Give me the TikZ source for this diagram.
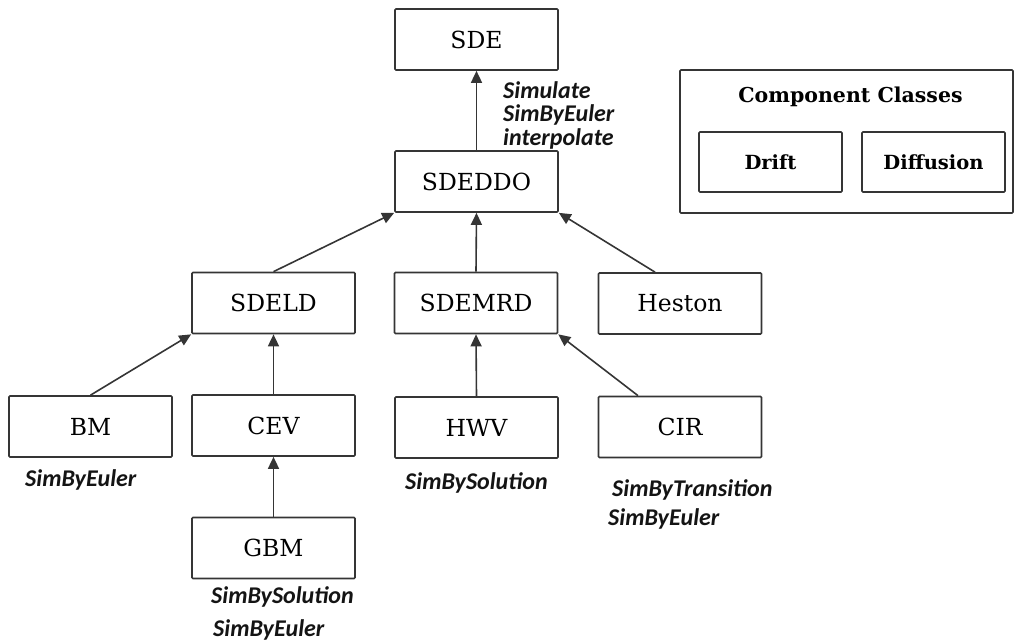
\documentclass[tikz,border=0pt]{standalone}
\usepackage{fontspec}
\setmainfont{DejaVu Serif}
\newfontfamily\labfont{Carlito}
\usetikzlibrary{arrows.meta,positioning}
\definecolor{edgec}{HTML}{353535}
\definecolor{labc}{HTML}{141414}
\tikzset{
  cls/.style={draw=edgec, line width=1.7pt, rounded corners=1pt, minimum width=163pt, minimum height=61pt, inner sep=0pt, font=\fontsize{23.5}{26}\selectfont, text=black},
  comp/.style={draw=edgec, line width=1.7pt, rounded corners=1pt, minimum width=143pt, minimum height=60pt, inner sep=0pt, font=\bfseries\fontsize{19.5}{22}\selectfont, text=black},
  inh/.style={draw=edgec, line width=1.6pt, -{Triangle[width=11pt,length=12pt]}},
  meth/.style={font=\labfont\bfseries\itshape\fontsize{24}{23.5}\selectfont, text=labc, inner sep=0pt, align=left, anchor=west}
}
\begin{document}
\begin{tikzpicture}[x=1pt,y=-1pt]
\useasboundingbox (0,0) rectangle (1015,642);
% class boxes
\node[cls] (sde) at (476.5,39.5) {SDE};
\node[cls] (sdeddo) at (476.5,181.5) {SDEDDO};
\node[cls] (sdeld) at (273.5,303) {SDELD};
\node[cls] (sdemrd) at (476,303) {SDEMRD};
\node[cls] (heston) at (680,303.5) {Heston};
\node[cls] (bm) at (90.5,426.5) {BM};
\node[cls] (cev) at (273.5,425.5) {CEV};
\node[cls] (gbm) at (273.5,548) {GBM};
\node[cls] (hwv) at (476.5,427.5) {HWV};
\node[cls] (cir) at (680,427) {CIR};
% component classes
\node[draw=edgec, line width=1.7pt, rounded corners=1pt, minimum width=333pt, minimum height=143pt, inner sep=0pt] (compbox) at (846.5,141.5) {};
\node[font=\bfseries\fontsize{20.5}{22}\selectfont, inner sep=0pt] (comptitle) at (850.5,97) {Component Classes};
\node[comp] (drift) at (770.5,162) {Drift};
\node[comp] (diffusion) at (933.5,162) {Diffusion};
% method labels
\node[meth] (m1) at (503,115) {Simulate\\SimByEuler\\interpolate};
\node[meth] (m2) at (25,480) {SimByEuler};
\node[meth] (m3) at (405,483) {SimBySolution};
\node[meth] (m4) at (612,490) {SimByTransition};
\node[meth] (m5) at (608,519) {SimByEuler};
\node[meth] (m6) at (211,597) {SimBySolution};
\node[meth] (m7) at (213,630) {SimByEuler};
% inheritance arrows
\draw[inh] (sdeddo.north) -- (sde.south);
\draw[inh] (sdeld.north) -- (sdeddo.south west);
\draw[inh] (sdemrd.north) -- (sdeddo.south);
\draw[inh] ([xshift=-25pt]heston.north) -- (sdeddo.south east);
\draw[inh] (bm.north) -- (sdeld.south west);
\draw[inh] (cev.north) -- (sdeld.south);
\draw[inh] (gbm.north) -- (cev.south);
\draw[inh] (hwv.north) -- (sdemrd.south);
\draw[inh] ([xshift=-42pt]cir.north) -- (sdemrd.south east);
\end{tikzpicture}
\end{document}
